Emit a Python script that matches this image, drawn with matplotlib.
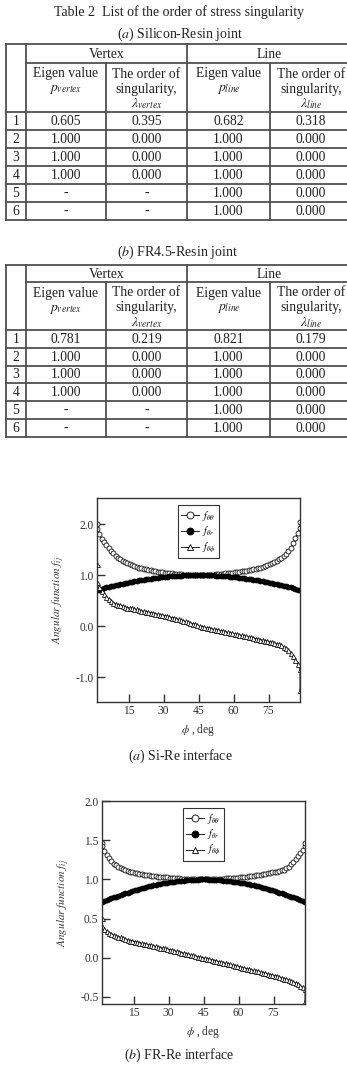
import numpy as np
import matplotlib
matplotlib.use('Agg')
import matplotlib.pyplot as plt
from matplotlib.lines import Line2D

plt.rcParams['font.family'] = ['Liberation Serif', 'DejaVu Serif']
plt.rcParams['mathtext.fontset'] = 'stix'

W, H = 347, 1069

# ---- table data ----
row_ids = ['1', '2', '3', '4', '5', '6']
p_vertex_a = [0.605, 1.000, 1.000, 1.000, None, None]
lam_vertex_a = [0.395, 0.000, 0.000, 0.000, None, None]
p_line_a = [0.682, 1.000, 1.000, 1.000, 1.000, 1.000]
lam_line_a = [0.318, 0.000, 0.000, 0.000, 0.000, 0.000]

p_vertex_b = [0.781, 1.000, 1.000, 1.000, None, None]
lam_vertex_b = [0.219, 0.000, 0.000, 0.000, None, None]
p_line_b = [0.821, 1.000, 1.000, 1.000, 1.000, 1.000]
lam_line_b = [0.179, 0.000, 0.000, 0.000, 0.000, 0.000]

# ---- angular function data (phi = 1.5 ... 88.5 deg, 1 deg step) ----
phi = np.arange(1.5, 89.0, 1.0)

# (a) Si-Re interface
f_tt_a = [1.90, 1.80, 1.71, 1.64, 1.59, 1.53, 1.48, 1.43, 1.38, 1.34, 1.31, 1.28, 1.25, 1.23,
          1.21, 1.19, 1.17, 1.16, 1.14, 1.13, 1.12, 1.11, 1.10, 1.09, 1.08, 1.07, 1.065, 1.06,
          1.05, 1.045, 1.04, 1.035, 1.03, 1.025, 1.02, 1.015, 1.012, 1.01, 1.007, 1.005, 1.003,
          1.002, 1.001, 1.0,
          1.0, 1.001, 1.002, 1.003, 1.005, 1.007, 1.01, 1.013, 1.016, 1.02, 1.025, 1.03, 1.035,
          1.04, 1.045, 1.05, 1.055, 1.06, 1.07, 1.075, 1.08, 1.09, 1.10, 1.11, 1.12, 1.13, 1.145,
          1.16, 1.175, 1.19, 1.21, 1.23, 1.25, 1.28, 1.31, 1.34, 1.38, 1.42, 1.47, 1.53, 1.62,
          1.72, 1.82, 1.92]
f_tr_a = [0.70, 0.715, 0.73, 0.745, 0.76, 0.77, 0.78, 0.79, 0.80, 0.81, 0.82, 0.83, 0.84, 0.85,
          0.86, 0.87, 0.878, 0.886, 0.894, 0.902, 0.91, 0.917, 0.924, 0.93, 0.936, 0.942, 0.948,
          0.953, 0.958, 0.963, 0.967, 0.971, 0.975, 0.979, 0.982, 0.985, 0.988, 0.991, 0.993,
          0.995, 0.997, 0.998, 0.999, 1.0,
          1.0, 0.999, 0.998, 0.997, 0.995, 0.993, 0.991, 0.988, 0.985, 0.982, 0.979, 0.975,
          0.971, 0.967, 0.963, 0.958, 0.953, 0.948, 0.942, 0.936, 0.93, 0.924, 0.917, 0.91,
          0.902, 0.894, 0.886, 0.878, 0.87, 0.86, 0.85, 0.84, 0.83, 0.82, 0.81, 0.80, 0.79,
          0.78, 0.77, 0.76, 0.745, 0.73, 0.715, 0.70]
f_tp_a = [0.86, 0.76, 0.68, 0.62, 0.57, 0.53, 0.49, 0.46, 0.44, 0.42, 0.405, 0.39, 0.375, 0.36,
          0.355, 0.345, 0.335, 0.325, 0.315, 0.30, 0.29, 0.28, 0.27, 0.26, 0.25, 0.24, 0.23,
          0.22, 0.21, 0.20, 0.19, 0.18, 0.165, 0.155, 0.14, 0.13, 0.115, 0.10, 0.09, 0.075,
          0.06, 0.045, 0.03, 0.015,
          -0.005, -0.015, -0.025, -0.035, -0.045, -0.055, -0.065, -0.075, -0.085, -0.095,
          -0.105, -0.115, -0.125, -0.135, -0.145, -0.155, -0.165, -0.175, -0.185, -0.195,
          -0.205, -0.215, -0.225, -0.235, -0.245, -0.255, -0.265, -0.275, -0.285, -0.295,
          -0.305, -0.315, -0.33, -0.345, -0.36, -0.38, -0.405, -0.43, -0.47, -0.52, -0.59,
          -0.66, -0.74, -0.84]
# extra end values drawn on the borders
f_tt_a_ends = [2.00, 2.03]
f_tp_a_ends = [1.22, -1.25]

# (b) FR-Re interface
f_tt_b = [1.42, 1.36, 1.31, 1.27, 1.23, 1.20, 1.18, 1.16, 1.145, 1.13, 1.12, 1.11, 1.10, 1.09,
          1.083, 1.076, 1.07, 1.064, 1.059, 1.054, 1.05, 1.046, 1.042, 1.039, 1.036, 1.033,
          1.03, 1.027, 1.024, 1.021, 1.019, 1.017, 1.015, 1.013, 1.011, 1.009, 1.007, 1.005,
          1.004, 1.003, 1.002, 1.001, 1.0, 1.0,
          1.0, 1.0, 1.001, 1.002, 1.003, 1.004, 1.006, 1.008, 1.01, 1.012, 1.014, 1.016, 1.018,
          1.02, 1.023, 1.026, 1.029, 1.032, 1.035, 1.038, 1.042, 1.046, 1.05, 1.055, 1.06,
          1.065, 1.07, 1.076, 1.082, 1.088, 1.095, 1.10, 1.11, 1.12, 1.12, 1.14, 1.16, 1.19,
          1.22, 1.26, 1.30, 1.34, 1.38, 1.42]
f_tr_b = [0.71, 0.72, 0.735, 0.75, 0.76, 0.77, 0.78, 0.79, 0.80, 0.81, 0.82, 0.83, 0.84, 0.85,
          0.86, 0.87, 0.878, 0.886, 0.894, 0.902, 0.91, 0.917, 0.924, 0.93, 0.936, 0.942, 0.948,
          0.953, 0.958, 0.963, 0.967, 0.971, 0.975, 0.979, 0.982, 0.985, 0.988, 0.991, 0.993,
          0.995, 0.997, 0.998, 0.999, 1.0,
          1.0, 0.999, 0.998, 0.997, 0.995, 0.993, 0.991, 0.988, 0.985, 0.982, 0.979, 0.975,
          0.971, 0.967, 0.963, 0.958, 0.953, 0.948, 0.942, 0.936, 0.93, 0.924, 0.917, 0.91,
          0.902, 0.894, 0.886, 0.878, 0.87, 0.86, 0.85, 0.84, 0.83, 0.82, 0.81, 0.80, 0.79,
          0.78, 0.77, 0.76, 0.75, 0.735, 0.72, 0.71]
f_tp_b = [0.41, 0.37, 0.34, 0.32, 0.30, 0.29, 0.28, 0.27, 0.26, 0.25, 0.24, 0.23, 0.22, 0.215,
          0.205, 0.20, 0.19, 0.185, 0.18, 0.17, 0.165, 0.16, 0.15, 0.145, 0.14, 0.13, 0.125,
          0.12, 0.11, 0.105, 0.095, 0.09, 0.08, 0.075, 0.065, 0.06, 0.05, 0.045, 0.035, 0.03,
          0.02, 0.015, 0.005, 0.0,
          -0.005, -0.01, -0.02, -0.025, -0.035, -0.04, -0.05, -0.055, -0.065, -0.07, -0.08,
          -0.085, -0.095, -0.10, -0.11, -0.115, -0.125, -0.13, -0.14, -0.145, -0.155, -0.16,
          -0.17, -0.175, -0.185, -0.19, -0.20, -0.205, -0.215, -0.22, -0.23, -0.235, -0.245,
          -0.255, -0.265, -0.275, -0.285, -0.295, -0.31, -0.32, -0.34, -0.355, -0.375, -0.40]
f_tt_b_ends = [1.46, 1.46]
f_tp_b_ends = [0.51, -0.55]

for s in (f_tt_a, f_tr_a, f_tp_a, f_tt_b, f_tr_b, f_tp_b):
    assert len(s) == len(phi), len(s)

fig = plt.figure(figsize=(W / 100, H / 100), dpi=100)

# ---------------- tables ----------------
tab = fig.add_axes([0, 0, 1, 1])
tab.set_xlim(0, W)
tab.set_ylim(H, 0)
tab.axis('off')

LC = '#505050'
TXT = '#222222'
cols = [6, 26, 106, 187, 270, 352]


def fmt(v):
    return '-' if v is None else '%.3f' % v


def draw_table(top, h1, h2, row_h, p_v, l_v, p_l, l_l):
    bottom = h2 + row_h * len(row_ids)
    kw = dict(color=LC, lw=1.3, solid_capstyle='projecting')
    tab.plot([cols[0], cols[-1]], [top, top], **kw)
    tab.plot([cols[1], cols[-1]], [h1, h1], **kw)
    for i in range(len(row_ids) + 1):
        y = h2 + i * row_h
        tab.plot([cols[0], cols[-1]], [y, y], **kw)
    for x in (cols[0], cols[1], cols[3], cols[5]):
        tab.plot([x, x], [top, bottom], **kw)
    for x in (cols[2], cols[4]):
        tab.plot([x, x], [h1, bottom], **kw)

    fs = 9.8
    tk = dict(ha='center', va='center', fontsize=fs, color=TXT)
    tab.text((cols[1] + cols[3]) / 2, (top + h1) / 2 + 0.5, 'Vertex', **tk)
    tab.text((cols[3] + cols[5]) / 2, (top + h1) / 2 + 0.5, 'Line', **tk)
    for c, sub in ((1, 'vertex'), (3, 'line')):
        xe = (cols[c] + cols[c + 1]) / 2
        xo = (cols[c + 1] + cols[c + 2]) / 2
        tab.text(xe, h1 + 11, 'Eigen value', **tk)
        tab.text(xe, h1 + 27, r'$p_{%s}$' % sub, **tk)
        tab.text(xo, h1 + 11, 'The order of', **tk)
        tab.text(xo, h1 + 26, 'singularity,', **tk)
        tab.text(xo, h1 + 41, r'$\lambda_{%s}$' % sub, **tk)
    for i, rid in enumerate(row_ids):
        y = h2 + (i + 0.5) * row_h + 0.5
        tab.text((cols[0] + cols[1]) / 2, y, rid, **tk)
        for c, vals in zip(range(1, 5), (p_v, l_v, p_l, l_l)):
            tab.text((cols[c] + cols[c + 1]) / 2, y, fmt(vals[i]), **tk)


tab.text(179, 12, 'Table 2  List of the order of stress singularity', ha='center', va='center',
         fontsize=10, color=TXT)
tab.text(180, 34, r'($\mathit{a}$) Silicon-Resin joint', ha='center', va='center',
         fontsize=10, color=TXT)
draw_table(44, 63, 112, 18, p_vertex_a, lam_vertex_a, p_line_a, lam_line_a)
tab.text(178, 252, r'($\mathit{b}$) FR4.5-Resin joint', ha='center', va='center',
         fontsize=10, color=TXT)
draw_table(265, 282, 330, 17.8, p_vertex_b, lam_vertex_b, p_line_b, lam_line_b)


# ---------------- angular function plots ----------------
def add_ax(l, t, r, b):
    return fig.add_axes([l / W, 1 - b / H, (r - l) / W, (b - t) / H])


def draw_plot(ax, f_tt, f_tr, f_tp, tt_ends, tp_ends, yticks, ylim):
    x_ext = np.concatenate([[phi[0]], phi, [phi[-1]]])
    mk = dict(color='black', lw=0.6, ms=3.6, mew=0.55, mec='black')
    ax.plot(x_ext, np.concatenate([[tt_ends[0]], f_tt, [tt_ends[1]]]), marker='o',
            mfc='white', **mk)
    ax.plot(phi, f_tr, marker='o', mfc='black', **mk)
    ax.plot(x_ext, np.concatenate([[tp_ends[0]], f_tp, [tp_ends[1]]]), marker='^',
            mfc='white', **mk)
    ax.set_xlim(1.5, 88.5)
    ax.set_ylim(*ylim)
    ax.set_xticks([15, 30, 45, 60, 75])
    ax.set_yticks(yticks)
    ax.set_yticklabels(['%.1f' % v for v in yticks])
    ax.tick_params(direction='in', length=5.5, width=1.0, top=False, right=False,
                   labelsize=8.3, colors='#333333', pad=2.5)
    for sp in ax.spines.values():
        sp.set_linewidth(1.0)
        sp.set_color('#333333')
    ax.set_xlabel(r'$\phi$ , deg', fontsize=8.3, color='#333333', labelpad=3)
    ax.set_ylabel(r'$Angular\ function\ f_{ij}$', fontsize=8.0, color='#333333', labelpad=6)
    handles = [
        Line2D([], [], marker='o', mfc='white', color='black', lw=0.6, ms=5, mew=0.6),
        Line2D([], [], marker='o', mfc='black', color='black', lw=0.6, ms=5, mew=0.6),
        Line2D([], [], marker='^', mfc='white', color='black', lw=0.6, ms=5, mew=0.6),
    ]
    leg = ax.legend(handles, [r'$f_{\theta\theta}$', r'$f_{\theta r}$', r'$f_{\theta\phi}$'],
                    loc='upper center', bbox_to_anchor=(0.5, 0.965), fontsize=7,
                    frameon=True, fancybox=False, edgecolor='black', handlelength=1.8,
                    handletextpad=0.4, borderpad=0.35, labelspacing=0.2, borderaxespad=0)
    leg.get_frame().set_linewidth(0.8)


ax_a = add_ax(97, 498, 300, 702)
draw_plot(ax_a, f_tt_a, f_tr_a, f_tp_a, f_tt_a_ends, f_tp_a_ends,
          [-1.0, 0.0, 1.0, 2.0], (-1.49, 2.51))
tab.text(180, 756, r'($\mathit{a}$) Si-Re interface', ha='center', va='center',
         fontsize=10, color=TXT)

ax_b = add_ax(102, 801, 305, 1004)
draw_plot(ax_b, f_tt_b, f_tr_b, f_tp_b, f_tt_b_ends, f_tp_b_ends,
          [-0.5, 0.0, 0.5, 1.0, 1.5, 2.0], (-0.59, 2.0))
tab.text(179, 1055, r'($\mathit{b}$) FR-Re interface', ha='center', va='center',
         fontsize=10, color=TXT)

fig.savefig('out.png', dpi=100)
